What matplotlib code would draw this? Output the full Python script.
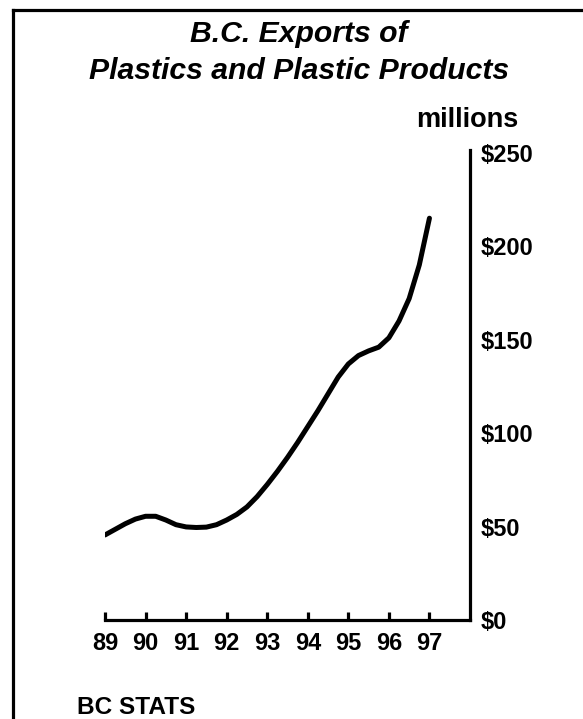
import matplotlib
matplotlib.use("Agg")
import matplotlib.pyplot as plt
from matplotlib.lines import Line2D

plt.rcParams['font.family'] = ['Liberation Sans', 'DejaVu Sans']

# Data (quarter-year resolution)
years = [89.00, 89.25, 89.50, 89.75, 90.00, 90.25, 90.50, 90.75,
         91.00, 91.25, 91.50, 91.75, 92.00, 92.25, 92.50, 92.75,
         93.00, 93.25, 93.50, 93.75, 94.00, 94.25, 94.50, 94.75,
         95.00, 95.25, 95.50, 95.75, 96.00, 96.25, 96.50, 96.75, 97.00]
exports = [45.5, 48.5, 51.5, 54.0, 55.5, 55.5, 53.5, 51.0,
           49.8, 49.5, 49.7, 51.0, 53.5, 56.5, 60.5, 66.0,
           72.5, 79.5, 87.0, 95.0, 103.5, 112.0, 121.0, 130.0,
           137.0, 141.5, 144.0, 146.0, 151.0, 160.0, 172.0, 190.0, 215.0]
x_ticks = [89, 90, 91, 92, 93, 94, 95, 96, 97]
x_labels = ['89', '90', '91', '92', '93', '94', '95', '96', '97']
y_ticks = [0, 50, 100, 150, 200, 250]
y_labels = ['$0', '$50', '$100', '$150', '$200', '$250']

W, H = 583, 719
fig = plt.figure(figsize=(W / 100, H / 100), dpi=100)
fig.patch.set_facecolor('white')

ax = fig.add_axes([105 / W, (H - 620) / H, 365 / W, 470 / H])
ax.plot(years, exports, color='black', linewidth=3.6,
        solid_capstyle='round', solid_joinstyle='round')
ax.set_xlim(89, 98)
ax.set_ylim(0, 251.5)

for s in ['left', 'top']:
    ax.spines[s].set_visible(False)
for s in ['bottom', 'right']:
    ax.spines[s].set_linewidth(2.3)
    ax.spines[s].set_color('black')
    ax.spines[s].set_capstyle('projecting')

ax.set_xticks(x_ticks)
ax.set_xticklabels(x_labels, fontsize=17, fontweight='bold')
ax.tick_params(axis='x', direction='in', length=6, width=2.3, pad=9)

ax.yaxis.tick_right()
ax.set_yticks(y_ticks)
ax.set_yticklabels(y_labels, fontsize=17, fontweight='bold')
ax.tick_params(axis='y', length=0, pad=8)

# Titles and notes
fig.text(299 / W, 1 - 42 / H, 'B.C. Exports of', ha='center', va='baseline',
         fontsize=21.7, fontweight='bold', fontstyle='italic')
fig.text(299 / W, 1 - 79 / H, 'Plastics and Plastic Products', ha='center',
         va='baseline', fontsize=21.7, fontweight='bold', fontstyle='italic')
fig.text(467 / W, 1 - 127 / H, 'millions', ha='center', va='baseline',
         fontsize=19.5, fontweight='bold')
fig.text(77 / W, 1 - 714 / H, 'BC STATS', ha='left', va='baseline',
         fontsize=17.6, fontweight='bold')

# Frame (left and top edges visible)
fig.add_artist(Line2D([12.5 / W, 12.5 / W], [0, 1 - 10 / H], transform=fig.transFigure,
                      color='black', linewidth=2.3, solid_capstyle='projecting'))
fig.add_artist(Line2D([12.5 / W, 1.0], [1 - 10 / H, 1 - 10 / H], transform=fig.transFigure,
                      color='black', linewidth=2.3, solid_capstyle='projecting'))

fig.savefig('out.png', dpi=100, facecolor='white')
